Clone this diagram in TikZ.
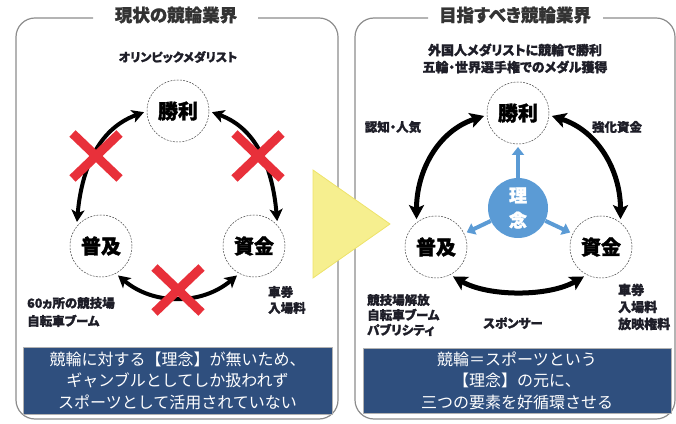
\documentclass[tikz,border=0pt]{standalone}
\usepackage{fontspec}
\setmainfont{Noto Sans CJK JP}
\newfontfamily\jpp{Noto Sans CJK JP}[RawFeature=+palt, BoldFeatures={FakeBold=1.2}]
\newfontfamily\jph{Noto Sans CJK JP}[BoldFeatures={FakeBold=1.6}]
\usetikzlibrary{arrows.meta,shapes.misc}
\definecolor{boxblue}{HTML}{2F4F7E}
\definecolor{ideablue}{HTML}{5B9BD5}
\definecolor{xred}{HTML}{E8303A}
\definecolor{trifill}{HTML}{F6EF8F}
\definecolor{triline}{HTML}{EEE36A}
\definecolor{framegray}{HTML}{8C8C8C}
\definecolor{ink}{HTML}{1E1E28}
\begin{document}
\begin{tikzpicture}[x=1pt,y=1pt,
  keynode/.style={circle, draw=black!70, dash pattern=on 2pt off 1.2pt, line width=0.5pt,
    minimum size=62pt, inner sep=0pt, outer sep=3pt, text=black,
    font=\jph\fontsize{20}{20}\selectfont\bfseries},
  lab/.style={text=ink, inner sep=0pt, font=\jpp\fontsize{12.5}{17}\selectfont\bfseries},
  ttl/.style={text=black!80, inner sep=0pt, font=\jpp\fontsize{17.5}{18}\selectfont\bfseries},
  cycL/.style={line width=4pt, {Stealth[length=12pt,width=13pt,inset=3pt]}-{Stealth[length=12pt,width=13pt,inset=3pt]}},
  cycR/.style={line width=5pt, {Stealth[length=14pt,width=15pt,inset=3pt]}-{Stealth[length=14pt,width=15pt,inset=3pt]}},
  xmark/.style={cross out, draw=xred, line width=9pt, minimum width=38pt, minimum height=36pt, inner sep=0pt},
  bluearr/.style={draw=ideablue, line width=4pt, -{Triangle[length=8pt,width=12pt]}},
  msgbox/.style={fill=boxblue, draw=gray!60, line width=0.6pt, text=white, align=center,
    font=\fontsize{16}{21.5}\selectfont},
  panel/.style={draw=framegray, line width=1.2pt, rounded corners=19pt}
]
\useasboundingbox (0,0) rectangle (676,423);

% panels
\draw[panel] (93,405) -- (16,405) -- (16,4) -- (338,4) -- (338,405) -- (258,405);
\draw[panel] (428,405) -- (355,405) -- (355,4) -- (675,4) -- (675,405) -- (603,405);
\node[ttl] (ltitle) at (176,408) {現状の競輪業界};
\node[ttl] (rtitle) at (515,408) {目指すべき競輪業界};

% yellow triangle
\fill[trifill, draw=triline, line width=0.8pt] (313,253) -- (313,145) -- (390,199) -- cycle;

% ---------- left panel ----------
\node[lab, font=\jpp\fontsize{12}{17}\selectfont\bfseries] (olym) at (178,366) {オリンピックメダリスト};
\node[keynode] (Lw) at (178,312) {勝利};
\node[keynode] (Lp) at (101,177) {普及};
\node[keynode] (Ls) at (254,177) {資金};

\draw[cycL] (Lp.135) to[out=85,in=200] (Lw.182);
\draw[cycL] (Lw.358) to[out=-20,in=95] (Ls.47);
\draw[cycL] (Lp.-60) to[out=-40,in=220] (Ls.240);

\node[xmark] (x1) at (96,267) {};
\node[xmark] (x2) at (258,267) {};
\node[xmark] (x3) at (178,133) {};

\node[lab, align=left, anchor=west, font=\jpp\fontsize{12.5}{18}\selectfont\bfseries] (l60) at (27,111) {60ヵ所の競技場\\自転車ブーム};
\node[lab, align=left, anchor=west, font=\jpp\fontsize{12.5}{16}\selectfont\bfseries] (lfee) at (268,123) {車券\\入場料};

\node[msgbox, minimum width=309pt, minimum height=67pt] (lmsg) at (177.5,42.5)
  {競輪に対する【理念】が無いため、\\ギャンブルとしてしか扱われず\\スポーツとして活用されていない};

% ---------- right panel ----------
\node[lab, align=center, font=\jpp\fontsize{13}{17}\selectfont\bfseries] (goal) at (515,364.5)
  {外国人メダリストに競輪で勝利\\五輪・世界選手権でのメダル獲得};
\node[keynode] (Rw) at (518,310) {勝利};
\node[keynode] (Rp) at (436,176) {普及};
\node[keynode] (Rs) at (601,176) {資金};
\node[circle, fill=ideablue, minimum size=60pt, inner sep=0pt, text=white, align=center,
  font=\jph\fontsize{18}{25}\selectfont\bfseries] (Ri) at (518,215) {理\\念};

\draw[bluearr] (Ri) -- (Rw);
\draw[bluearr] (Ri) -- (Rp);
\draw[bluearr] (Ri) -- (Rs);

\draw[cycR] (Rp.125) to[out=90,in=198] (Rw.185);
\draw[cycR] (Rw.355) to[out=-18,in=90] (Rs.55);
\draw[cycR] (Rp.-60) to[out=-30,in=210,looseness=0.8] (Rs.240);

\node[lab] (pop) at (393,296) {認知・人気};
\node[lab] (fund) at (617,296) {強化資金};
\node[lab, align=left, anchor=west, font=\jpp\fontsize{12.5}{15}\selectfont\bfseries] (rp3) at (367,108) {競技場解放\\自転車ブーム\\パブリシティ};
\node[lab] (spon) at (513,100) {スポンサー};
\node[lab, align=left, anchor=west, font=\jpp\fontsize{13}{17}\selectfont\bfseries] (rfee) at (618,116) {車券\\入場料\\放映権料};

\node[msgbox, minimum width=308pt, minimum height=65pt] (rmsg) at (517,42.5)
  {競輪＝スポーツという\\【理念】の元に、\\三つの要素を好循環させる};
\end{tikzpicture}
\end{document}
